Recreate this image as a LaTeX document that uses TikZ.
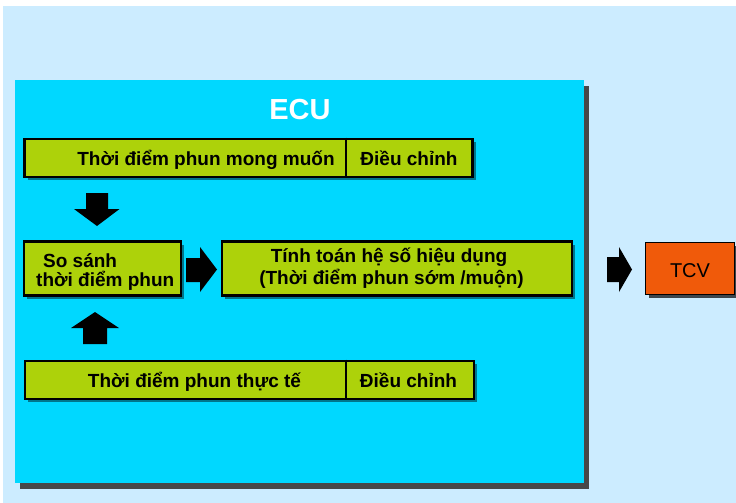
\documentclass[tikz,border=0pt]{standalone}
\usepackage{fontspec}
\setmainfont{Liberation Sans}
\usetikzlibrary{shadows}
\definecolor{skybg}{HTML}{CCECFF}
\definecolor{ecucyan}{HTML}{00D8FF}
\definecolor{ecushadow}{HTML}{484848}
\definecolor{lime}{HTML}{ADD20A}
\definecolor{tcvorange}{HTML}{F05A0A}
\begin{document}
\begin{tikzpicture}[x=1pt,y=-1pt,
  greenbox/.style={draw=black, line width=2.6pt, fill=lime, inner sep=0pt,
    drop shadow={shadow xshift=3pt, shadow yshift=-3pt, opacity=0.45, fill=black}},
  lbl/.style={font=\bfseries\fontsize{19}{22}\selectfont, text=black, inner sep=0pt, anchor=base},
  blockarrow/.style={fill=black}]
\useasboundingbox (0,0) rectangle (736,503);
% page background
\fill[white] (0,0) rectangle (736,503);
\fill[skybg] (3,6) rectangle (736,503);

% ECU panel with its shadow
\fill[ecushadow] (20,86) rectangle (589,489);
\node[fill=ecucyan, inner sep=0pt, minimum width=569pt, minimum height=403pt] (ecu) at (299.5,281.5) {};
\node[font=\bfseries\fontsize{29}{32}\selectfont, text=white, inner sep=0pt, anchor=base] (ecutitle) at (300,119) {ECU};

% desired injection timing row
\node[greenbox, minimum width=448pt, minimum height=38pt] (desired) at (248.5,158) {};
\coordinate (d1) at (346,158);
\draw[line width=1.6pt] (desired.north -| d1) -- (desired.south -| d1);
\node[lbl] (desiredtxt) at (206,165) {Thời điểm phun mong muốn};
\node[lbl] (desiredadj) at (409,165) {Điều chỉnh};

% comparison box
\node[greenbox, minimum width=157pt, minimum height=54pt] (compare) at (102.5,268.5) {};
\node[lbl, anchor=base west] (comparetxt1) at (43,267) {So sánh};
\node[lbl, anchor=base west] (comparetxt2) at (36,286) {thời điểm phun};

% effective coefficient box
\node[greenbox, minimum width=350pt, minimum height=54pt] (calc) at (397,268.5) {};
\node[lbl] (calctxt1) at (389,262) {Tính toán hệ số hiệu dụng};
\node[lbl] (calctxt2) at (391.5,284) {(Thời điểm phun sớm /muộn)};

% actual injection timing row
\node[greenbox, minimum width=449pt, minimum height=38pt] (actual) at (249.5,380) {};
\coordinate (d2) at (346,380);
\draw[line width=1.6pt] (actual.north -| d2) -- (actual.south -| d2);
\node[lbl] (actualtxt) at (194.5,387) {Thời điểm phun thực tế};
\node[lbl] (actualadj) at (408.5,387) {Điều chỉnh};

% TCV box
\node[draw=black, line width=1.6pt, fill=tcvorange, inner sep=0pt,
  minimum width=89pt, minimum height=52pt,
  drop shadow={shadow xshift=3pt, shadow yshift=-3pt, opacity=0.7, fill=black}] (tcv) at (690,268.5) {};
\node[font=\fontsize{20}{22}\selectfont, text=black, inner sep=0pt, anchor=base] (tcvtxt) at (690,277) {TCV};

% block arrows
\coordinate (downA) at (97,193);
\fill[blockarrow] (downA) ++(-11,0) -- ++(22,0) -- ++(0,16) -- ++(11.5,0) -- (97,226) -- (74,209) -- (86,209) -- cycle;
\coordinate (upA) at (95,312);
\fill[blockarrow] (upA) -- (119,328) -- (107,328) -- (107,344) -- (83,344) -- (83,328) -- (71,328) -- cycle;
\coordinate (midA) at (217,269.5);
\fill[blockarrow] (midA) -- (200,292) -- (200,282) -- (186,282) -- (186,258) -- (200,258) -- (200,247) -- cycle;
\coordinate (outA) at (632,269.5);
\fill[blockarrow] (outA) -- (619,292) -- (619,282) -- (607,282) -- (607,257) -- (619,257) -- (619,247) -- cycle;
\end{tikzpicture}
\end{document}
